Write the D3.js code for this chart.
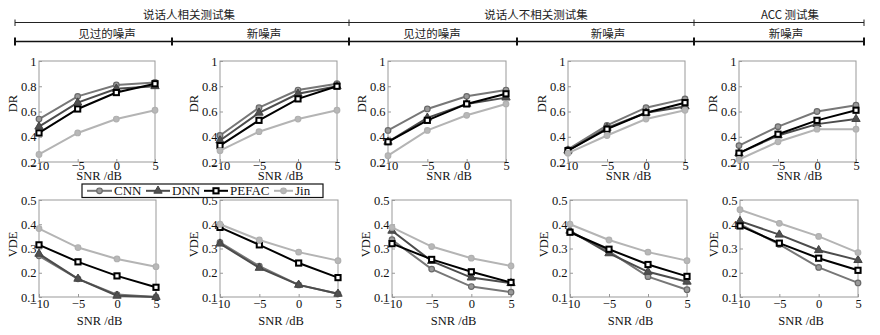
<!DOCTYPE html>
<html><head><meta charset="utf-8">
<script src="https://cdn.jsdelivr.net/npm/d3@7/dist/d3.min.js"></script>
<style>
html,body{margin:0;padding:0;background:#fff;}
svg{display:block;}
</style></head>
<body>
<svg id="chart" width="880" height="335"></svg>
<script>
// ---------- DATA ----------
const snr = [-10, -5, 0, 5];
const seriesNames = ["CNN", "DNN", "PEFAC", "Jin"];
const xTickLabels = ["\u221210", "\u22125", "0", "5"];
const drTicks = [0.2, 0.4, 0.6, 0.8, 1];
const drTickLabels = ["0.2", "0.4", "0.6", "0.8", "1"];
const vdeTicks = [0.1, 0.2, 0.3, 0.4, 0.5];
const vdeTickLabels = ["0.1", "0.2", "0.3", "0.4", "0.5"];
const groupTitles = ["说话人相关测试集", "说话人不相关测试集", "ACC 测试集"];
const subTitles = ["见过的噪声", "新噪声", "见过的噪声", "新噪声", "新噪声"];

// DR per panel (5 panels) x SNR (4 values)
const drCNN   = [[0.54,0.72,0.81,0.83],[0.41,0.63,0.77,0.82],[0.45,0.62,0.72,0.77],[0.30,0.49,0.63,0.70],[0.33,0.48,0.60,0.65]];
const drDNN   = [[0.48,0.67,0.78,0.80],[0.37,0.59,0.74,0.80],[0.36,0.55,0.66,0.71],[0.29,0.47,0.59,0.64],[0.27,0.41,0.50,0.54]];
const drPEFAC = [[0.43,0.62,0.75,0.82],[0.33,0.53,0.70,0.80],[0.36,0.53,0.66,0.74],[0.29,0.46,0.59,0.67],[0.27,0.42,0.53,0.61]];
const drJin   = [[0.26,0.43,0.54,0.61],[0.29,0.44,0.54,0.61],[0.25,0.45,0.57,0.66],[0.27,0.41,0.54,0.61],[0.22,0.36,0.46,0.46]];
// VDE per panel x SNR
const vdeCNN   = [[0.27,0.175,0.11,0.10],[0.325,0.227,0.15,0.113],[0.336,0.215,0.143,0.12],[0.37,0.288,0.184,0.13],[0.40,0.317,0.222,0.158]];
const vdeDNN   = [[0.278,0.175,0.105,0.10],[0.32,0.22,0.15,0.113],[0.373,0.248,0.18,0.157],[0.373,0.28,0.204,0.163],[0.413,0.357,0.293,0.252]];
const vdePEFAC = [[0.315,0.245,0.187,0.14],[0.387,0.315,0.24,0.18],[0.32,0.255,0.204,0.16],[0.367,0.297,0.234,0.185],[0.393,0.322,0.26,0.21]];
const vdeJin   = [[0.382,0.304,0.257,0.225],[0.40,0.335,0.285,0.25],[0.387,0.308,0.26,0.228],[0.40,0.335,0.285,0.25],[0.46,0.404,0.35,0.283]];

// ---------- LAYOUT / STYLE ----------
const svg = d3.select("#chart");
const serif = "'Liberation Serif','DejaVu Serif',serif";
const cjk = "'Noto Sans CJK SC','Noto Sans CJK JP',sans-serif";

const topPanels = [[39,155],[220,337],[388,506],[568,685],[739,856]];
const botPanels = [[39,156],[220,338],[392,511],[570,687],[740,858]];
const topY = [61, 162];
const botY = [200, 297];

const styles = {
  CNN:   {stroke:"#777", fill:"#9a9a9a", mstroke:"#6a6a6a", shape:"circle"},
  DNN:   {stroke:"#4c4c4c", fill:"#505050", mstroke:"#444", shape:"triangle"},
  PEFAC: {stroke:"#000", fill:"#fff", mstroke:"#000", shape:"square"},
  Jin:   {stroke:"#b4b4b4", fill:"#b8b8b8", mstroke:"#b0b0b0", shape:"circle"}
};
const drData = {CNN:drCNN, DNN:drDNN, PEFAC:drPEFAC, Jin:drJin};
const vdeData = {CNN:vdeCNN, DNN:vdeDNN, PEFAC:vdePEFAC, Jin:vdeJin};

function drawMarker(g, name, x, y) {
  const s = styles[name];
  if (s.shape === "circle") {
    g.append("circle").attr("cx", x).attr("cy", y).attr("r", 2.8)
      .attr("fill", s.fill).attr("stroke", s.mstroke).attr("stroke-width", 1.2);
  } else if (s.shape === "triangle") {
    const sym = d3.symbol().type(d3.symbolTriangle).size(30);
    g.append("path").attr("d", sym()).attr("transform", `translate(${x},${y})`)
      .attr("fill", s.fill).attr("stroke", s.mstroke).attr("stroke-width", 1);
  } else {
    g.append("rect").attr("x", x-2.6).attr("y", y-2.6).attr("width", 5.2).attr("height", 5.2)
      .attr("fill", s.fill).attr("stroke", s.mstroke).attr("stroke-width", 2);
  }
}

function drawPanel(px, py, yDomain, ticks, tickLabels, yLabel, dataMap, idx, labelDy, xLabOff, snrOff) {
  const x = d3.scaleLinear().domain([-10, 5]).range(px);
  const y = d3.scaleLinear().domain(yDomain).range([py[1], py[0]]);
  const g = svg.append("g");
  g.append("rect").attr("x", px[0]).attr("y", py[0])
    .attr("width", px[1]-px[0]).attr("height", py[1]-py[0])
    .attr("fill", "none").attr("stroke", "#999").attr("stroke-width", 1);
  const ax = g.append("g").attr("transform", `translate(0,${py[1]})`)
    .call(d3.axisBottom(x).tickValues(snr).tickSize(-3).tickPadding(xLabOff)
      .tickFormat((d,i) => xTickLabels[i]));
  const ay = g.append("g").attr("transform", `translate(${px[0]},0)`)
    .call(d3.axisLeft(y).tickValues(ticks).tickSize(-3).tickPadding(2.5)
      .tickFormat((d,i) => tickLabels[i]));
  [ax, ay].forEach(a => {
    a.select(".domain").remove();
    a.selectAll(".tick line").attr("stroke", "#999");
    a.selectAll("text").attr("font-family", serif).attr("font-size", 12.5).attr("fill", "#111");
  });
  ax.selectAll("text").attr("dy", "0.6em");
  g.append("text").attr("transform", `translate(${px[0]-22},${(py[0]+py[1])/2 + labelDy}) rotate(-90)`)
    .attr("text-anchor", "middle").attr("font-family", serif).attr("font-size", 12.5)
    .attr("fill", "#111").text(yLabel);
  g.append("text").attr("x", (px[0]+px[1])/2 + 2).attr("y", py[1] + snrOff)
    .attr("text-anchor", "middle").attr("font-family", serif).attr("font-size", 12.5)
    .attr("fill", "#111").text("SNR /dB");
  const line = d3.line().x((d,i) => x(snr[i])).y(d => y(d));
  seriesNames.forEach(name => {
    const vals = dataMap[name][idx];
    g.append("path").attr("d", line(vals)).attr("fill", "none")
      .attr("stroke", styles[name].stroke).attr("stroke-width", 2);
    vals.forEach((v,i) => drawMarker(g, name, x(snr[i]), y(v)));
  });
}

for (let i = 0; i < 5; i++) {
  drawPanel(topPanels[i], topY, [0.2, 1], drTicks, drTickLabels, "DR", drData, i, -8, 0.5, 17.5);
  drawPanel(botPanels[i], botY, [0.1, 0.5], vdeTicks, vdeTickLabels, "VDE", vdeData, i, -4, 3, 27.5);
}

// ---------- HEADER ----------
const hdr = svg.append("g");
const l1y = 22.5, l2y = 41.5;
hdr.append("line").attr("x1", 15).attr("x2", 864).attr("y1", l1y).attr("y2", l1y)
  .attr("stroke", "#222").attr("stroke-width", 1);
[15, 349, 694, 864].forEach(xv => hdr.append("line").attr("x1", xv).attr("x2", xv)
  .attr("y1", l1y-3).attr("y2", l1y+3.5).attr("stroke", "#222").attr("stroke-width", 1));
hdr.append("line").attr("x1", 15).attr("x2", 864).attr("y1", l2y).attr("y2", l2y)
  .attr("stroke", "#111").attr("stroke-width", 1.4);
[15, 172, 349, 517, 694, 864].forEach(xv => hdr.append("line").attr("x1", xv).attr("x2", xv)
  .attr("y1", l2y-4).attr("y2", l2y+4).attr("stroke", "#111").attr("stroke-width", 2));
const groupX = [189, 536, 790];
groupTitles.forEach((t,i) => hdr.append("text").attr("x", groupX[i]).attr("y", 18.5)
  .attr("text-anchor", "middle").attr("font-family", cjk).attr("font-size", 11.5)
  .attr("fill", "#222").text(t));
const subX = [107, 264, 432, 608, 786];
subTitles.forEach((t,i) => hdr.append("text").attr("x", subX[i]).attr("y", 37.5)
  .attr("text-anchor", "middle").attr("font-family", cjk).attr("font-size", 11.5)
  .attr("fill", "#222").text(t));

// ---------- LEGEND ----------
const lg = svg.append("g");
lg.append("rect").attr("x", 82).attr("y", 184).attr("width", 241).attr("height", 13.5)
  .attr("fill", "#fff").attr("stroke", "#111").attr("stroke-width", 1.2);
const legX = [87, 146, 204, 274];
const legW = [25, 24, 24, 19];
seriesNames.forEach((name,i) => {
  const ly = 190.8;
  lg.append("line").attr("x1", legX[i]).attr("x2", legX[i]+legW[i]).attr("y1", ly).attr("y2", ly)
    .attr("stroke", styles[name].stroke).attr("stroke-width", 2);
  drawMarker(lg, name, legX[i]+legW[i]/2, ly);
  lg.append("text").attr("x", legX[i]+legW[i]+2).attr("y", ly+4.5)
    .attr("font-family", serif).attr("font-size", 13).attr("fill", "#111").text(name);
});
</script>
</body></html>
